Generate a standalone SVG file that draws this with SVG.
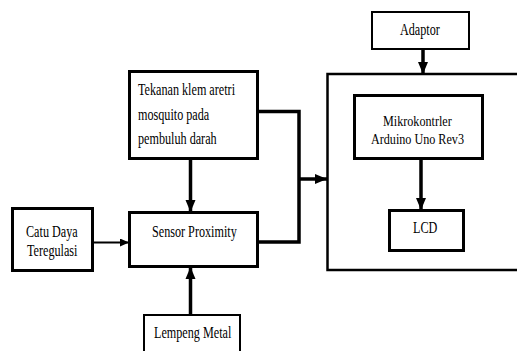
<svg xmlns="http://www.w3.org/2000/svg" width="517" height="351" viewBox="0 0 517 351">
<defs>
<marker id="ah" markerUnits="userSpaceOnUse" markerWidth="12" markerHeight="12" viewBox="0 0 12 10" refX="12" refY="5" orient="auto"><path d="M0,0 L12,5 L0,10 Z" fill="#000"/></marker>
<marker id="ahs" markerUnits="userSpaceOnUse" markerWidth="9" markerHeight="8" viewBox="0 0 9 8" refX="9" refY="4" orient="auto"><path d="M0,0 L9,4 L0,8 Z" fill="#000"/></marker>
</defs>
<style>
.b{fill:#fff;stroke:#000;stroke-width:3}
.t{fill:#fff;stroke:#000;stroke-width:2}
.c{fill:none;stroke:#000;stroke-width:3.5}
text{font-size:16px;fill:#000;font-family:"Liberation Serif",serif}
.s{font-size:15px}
</style>
<rect width="517" height="351" fill="#fff"/>
<g id="container"><rect x="327.5" y="74" width="200" height="196" fill="none" stroke="#000" stroke-width="2.5"/></g>
<g id="tekanan"><rect class="b" x="129.5" y="71.5" width="128" height="87"/>
<text transform="translate(138,95) scale(0.76,1)">Tekanan klem aretri</text>
<text transform="translate(138,120) scale(0.76,1)">mosquito pada</text>
<text transform="translate(138,144) scale(0.76,1)">pembuluh darah</text></g>
<g id="sensor"><rect class="b" x="129.5" y="212.5" width="128" height="54"/>
<text transform="translate(152,237) scale(0.76,1)">Sensor Proximity</text></g>
<g id="catu"><rect class="b" x="12.5" y="208.5" width="80" height="62"/>
<text transform="translate(26,237) scale(0.76,1)">Catu Daya</text>
<text transform="translate(27,256) scale(0.76,1)">Teregulasi</text></g>
<g id="lempeng"><rect class="t" x="144" y="315" width="96" height="50"/>
<text transform="translate(154,338) scale(0.76,1)">Lempeng Metal</text></g>
<g id="adaptor"><rect class="t" x="372" y="12" width="97" height="37"/>
<text transform="translate(400,35) scale(0.76,1)">Adaptor</text></g>
<g id="mikro"><rect class="b" x="354.5" y="95.5" width="128" height="63"/>
<text class="s" transform="translate(383,125.5) scale(0.81,1)">Mikrokontrler</text>
<text class="s" transform="translate(371,144) scale(0.81,1)">Arduino Uno Rev3</text></g>
<g id="lcd"><rect class="b" x="389.5" y="210.5" width="74" height="40"/>
<text transform="translate(413,233) scale(0.76,1)">LCD</text></g>
<g id="connectors">
<path class="c" d="M257,111.5 H299 V242 H257"/>
<path class="c" d="M299,179 H327" marker-end="url(#ah)"/>
<path class="c" d="M190.5,158 V212" marker-end="url(#ah)"/>
<path class="c" d="M190.5,315 V267" marker-end="url(#ah)"/>
<path d="M93,242.5 H129" fill="none" stroke="#000" stroke-width="2" marker-end="url(#ahs)"/>
<path class="c" d="M423,49 V74" stroke-width="3" marker-end="url(#ah)"/>
<path class="c" d="M421,158 V210" marker-end="url(#ah)"/>
</g>
</svg>
